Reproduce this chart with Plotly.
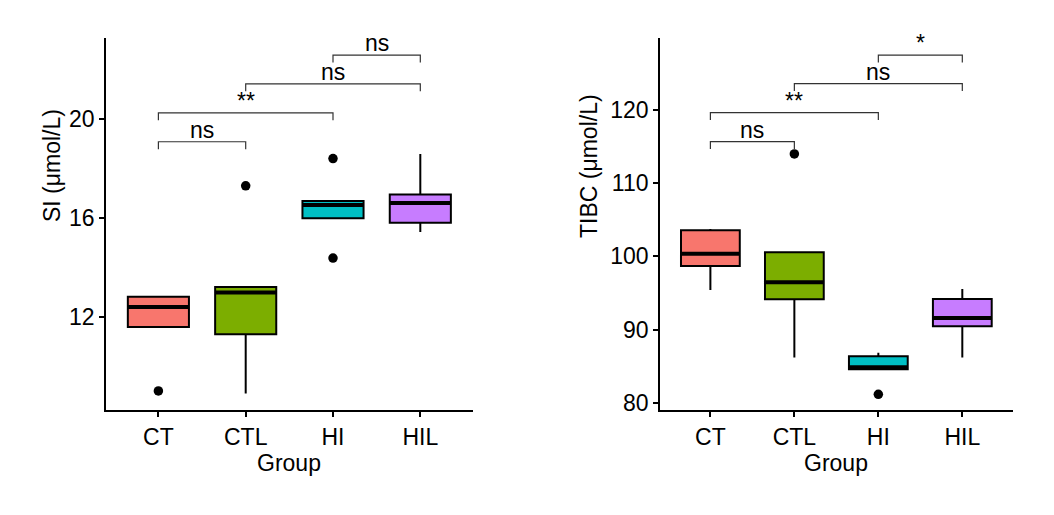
import plotly.graph_objects as go

groups = ["CT", "CTL", "HI", "HIL"]
colors = ["#F8766D", "#7CAE00", "#00BFC4", "#C77CFF"]
xpos = [1, 2, 3, 4]

# SI (µmol/L) box statistics
si_q1 = [11.58, 11.29, 15.98, 15.80]
si_med = [12.39, 12.98, 16.51, 16.59]
si_q3 = [12.81, 13.20, 16.68, 16.94]
si_lo = [11.58, 8.90, 15.98, 15.42]
si_hi = [12.85, 13.20, 16.68, 18.57]
si_out_x = [1, 2, 3, 3]
si_out_y = [9.00, 17.29, 18.39, 14.37]

# TIBC (µmol/L) box statistics
tibc_q1 = [98.67, 94.13, 84.56, 90.44]
tibc_med = [100.36, 96.45, 84.84, 91.58]
tibc_q3 = [103.55, 100.55, 86.34, 94.17]
tibc_lo = [95.40, 86.16, 84.56, 86.16]
tibc_hi = [103.73, 100.55, 86.83, 95.53]
tibc_out_x = [2, 3]
tibc_out_y = [114.0, 81.15]

# significance comparisons
comp_pairs = [(1, 2), (1, 3), (2, 4), (3, 4)]
si_bracket_y = [19.07, 20.24, 21.41, 22.57]
si_labels = ["ns", "**", "ns", "ns"]
tibc_bracket_y = [115.67, 119.63, 123.6, 127.5]
tibc_labels = ["ns", "**", "ns", "*"]

W, H = 1054, 515
OFF = 8  # browser default body margin
FONT = "Liberation Sans, Arial, Helvetica, sans-serif"
FS = 23
BOXW = 0.7


def px_x(p):
    return (p - OFF) / W


def px_y(p):
    return 1 - (p - OFF) / H


fig = go.Figure()


def add_panel(xa, ya, q1, med, q3, lo, hi, ox, oy, by, labs, tip):
    for i in range(4):
        fig.add_trace(go.Box(
            x=[xpos[i]], q1=[q1[i]], median=[med[i]], q3=[q3[i]],
            lowerfence=[lo[i]], upperfence=[hi[i]],
            width=BOXW, whiskerwidth=0, boxpoints=False,
            fillcolor=colors[i], line=dict(color="black", width=2),
            xaxis=xa, yaxis=ya, showlegend=False, hoverinfo="skip"))
        fig.add_trace(go.Scatter(
            x=[xpos[i] - BOXW / 2, xpos[i] + BOXW / 2], y=[med[i], med[i]],
            mode="lines", line=dict(color="black", width=4),
            xaxis=xa, yaxis=ya, showlegend=False, hoverinfo="skip"))
    fig.add_trace(go.Scatter(
        x=ox, y=oy, mode="markers",
        marker=dict(color="black", size=9.5),
        xaxis=xa, yaxis=ya, showlegend=False, hoverinfo="skip"))
    for (a, b), yv, lab in zip(comp_pairs, by, labs):
        fig.add_trace(go.Scatter(
            x=[a, a, b, b], y=[yv - tip, yv, yv, yv - tip], mode="lines",
            line=dict(color="#333333", width=1.2),
            xaxis=xa, yaxis=ya, showlegend=False, hoverinfo="skip"))
        fig.add_annotation(
            x=(a + b) / 2, y=yv, xref=xa, yref=ya, text=lab, showarrow=False,
            xanchor="center", yanchor="bottom", yshift=-3,
            font=dict(family=FONT, size=FS, color="black"))


add_panel("x", "y", si_q1, si_med, si_q3, si_lo, si_hi,
          si_out_x, si_out_y, si_bracket_y, si_labels, 0.3)
add_panel("x2", "y2", tibc_q1, tibc_med, tibc_q3, tibc_lo, tibc_hi,
          tibc_out_x, tibc_out_y, tibc_bracket_y, tibc_labels, 1.0)

ydom = [px_y(410), px_y(38.3)]
axis_common = dict(
    showline=True, linecolor="black", linewidth=1.8,
    ticks="outside", ticklen=5, tickwidth=1.6, tickcolor="black",
    showgrid=False, zeroline=False,
    tickfont=dict(family=FONT, size=FS, color="black"),
    automargin=False,
)

fig.update_layout(
    width=W, height=H,
    margin=dict(l=0, r=0, t=0, b=0),
    paper_bgcolor="white", plot_bgcolor="white",
    font=dict(family=FONT, color="black"),
    xaxis=dict(domain=[px_x(106), px_x(472.7)], range=[0.4, 4.6],
               tickvals=xpos, ticktext=groups, anchor="y", **axis_common),
    yaxis=dict(domain=ydom, range=[8.23, 23.25], tickvals=[12, 16, 20],
               anchor="x", **axis_common),
    xaxis2=dict(domain=[px_x(660), px_x(1012.7)], range=[0.4, 4.6],
                tickvals=xpos, ticktext=groups, anchor="y2", **axis_common),
    yaxis2=dict(domain=ydom, range=[79.0, 129.8],
                tickvals=[80, 90, 100, 110, 120], anchor="x2", **axis_common),
)

# axis titles
title_font = dict(family=FONT, size=FS, color="black")
fig.add_annotation(x=px_x(52), y=px_y(166), xref="paper", yref="paper",
                   xanchor="center", yanchor="middle",
                   text="SI (μmol/L)", textangle=-90, showarrow=False,
                   font=title_font)
fig.add_annotation(x=px_x(589), y=px_y(166), xref="paper", yref="paper",
                   xanchor="center", yanchor="middle",
                   text="TIBC (μmol/L)", textangle=-90, showarrow=False,
                   font=title_font)
fig.add_annotation(x=px_x((106 + 472.7) / 2), y=px_y(463), xref="paper", yref="paper",
                   xanchor="center", yanchor="middle",
                   text="Group", showarrow=False, font=title_font)
fig.add_annotation(x=px_x((660 + 1012.7) / 2), y=px_y(463), xref="paper", yref="paper",
                   xanchor="center", yanchor="middle",
                   text="Group", showarrow=False, font=title_font)

fig.write_html("out.html")
